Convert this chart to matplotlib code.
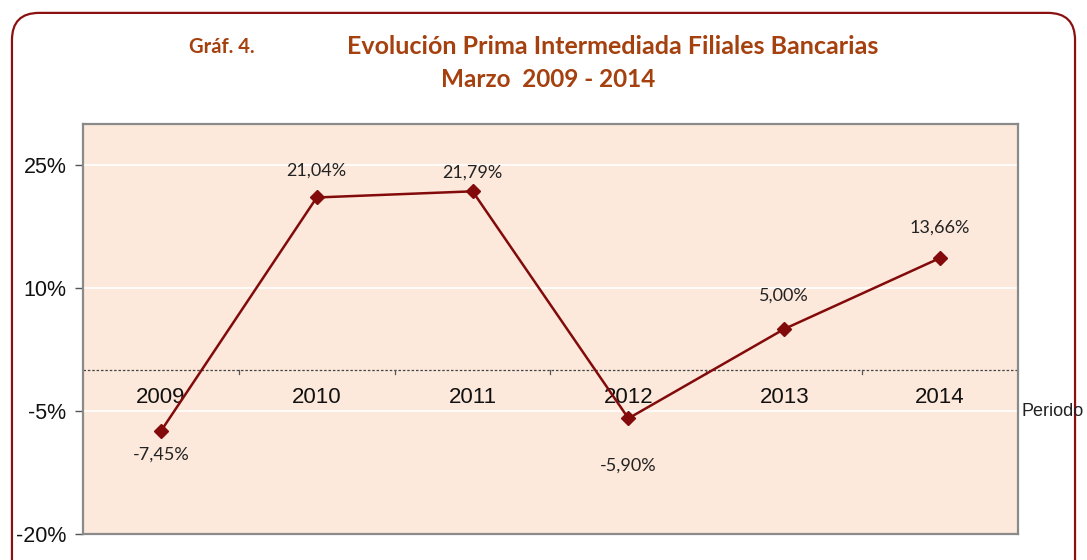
import matplotlib.pyplot as plt
from matplotlib.patches import FancyBboxPatch
from matplotlib.ticker import FixedLocator

# ============================================================
# DATA
# ============================================================

years = ["2009", "2010", "2011", "2012", "2013", "2014"]
values = [-7.45, 21.04, 21.79, -5.90, 5.00, 13.66]
labels = ["-7,45%", "21,04%", "21,79%", "-5,90%", "5,00%", "13,66%"]
y_ticks = [-20, -5, 10, 25]

# label gap from marker, in pixels (negative = below)
label_gaps = [-16, 19, 11, -39, 25, 22]

line_color = "#820A0A"
title_color = "#A5400F"

# ============================================================
# FIGURE
# ============================================================

fig = plt.figure(figsize=(10.87, 5.6), dpi=100)

border = FancyBboxPatch(
    (0.011, -0.05), 0.978, 1.027,
    boxstyle="round,pad=0,rounding_size=0.025",
    transform=fig.transFigure,
    facecolor="none", edgecolor="#8B1010", linewidth=1.6,
    mutation_aspect=1.94, zorder=0,
)
fig.patches.append(border)

ax = fig.add_axes([83 / 1087, 1 - 534 / 560, 935 / 1087, 410 / 560])
ax.set_facecolor("#FCE9DB")
ax.set_zorder(2)

x = list(range(len(years)))
ax.plot(x, values, color=line_color, linewidth=1.8,
        marker="D", markersize=7, zorder=4)

ax.set_xlim(-0.5, 5.5)
ax.set_ylim(-20, 30)

# white gridlines
for t in y_ticks[1:]:
    ax.axhline(t, color="white", linewidth=1.2, zorder=1)

# zero line, dashed
ax.axhline(0, color="#444444", linewidth=0.9, linestyle=(0, (2, 1.5)), zorder=2)

# category boundary ticks on the zero line
for b in [0.5, 1.5, 2.5, 3.5, 4.5]:
    ax.plot([b, b], [0, -0.45], color="#555555", linewidth=0.9, zorder=2)

# category labels just below the zero line
for xi, yr in zip(x, years):
    ax.text(xi, -2.1, yr, ha="center", va="top", fontsize=16,
            family="Liberation Sans", color="#111111", zorder=3)

# data labels
for xi, v, lab, g in zip(x, values, labels, label_gaps):
    ax.annotate(lab, (xi, v), xytext=(0, g), textcoords="offset pixels",
                ha="center", va="bottom" if g > 0 else "top",
                fontsize=13, family="Lato", color="#222222")

ax.set_xticks([])
ax.yaxis.set_major_locator(FixedLocator(y_ticks))
ax.set_yticklabels([f"{t}%" for t in y_ticks], fontsize=15.5,
                   family="Liberation Sans", color="#111111")
ax.tick_params(axis="y", length=6, width=1, color="#555555", pad=6)

for s in ax.spines.values():
    s.set_color("#8A8A8A")
    s.set_linewidth(1.6)

ax.text(1.004, 0.30, "Periodo", transform=ax.transAxes, ha="left",
        va="center", fontsize=13, family="Liberation Sans",
        color="#222222")

# ============================================================
# TITLES
# ============================================================

fig.text(222 / 1087, 1 - 47 / 560, "Gráf. 4.", ha="center", va="center",
         fontsize=14.5, fontweight="bold", family="Lato", color=title_color)
fig.text(613 / 1087, 1 - 47 / 560,
         "Evolución Prima Intermediada Filiales Bancarias",
         ha="center", va="center", fontsize=18, fontweight="bold",
         family="Lato", color=title_color)
fig.text(548 / 1087, 1 - 80 / 560, "Marzo  2009 - 2014",
         ha="center", va="center", fontsize=17.5, fontweight="bold",
         family="Lato", color=title_color)

fig.savefig("out.png", dpi=100)
